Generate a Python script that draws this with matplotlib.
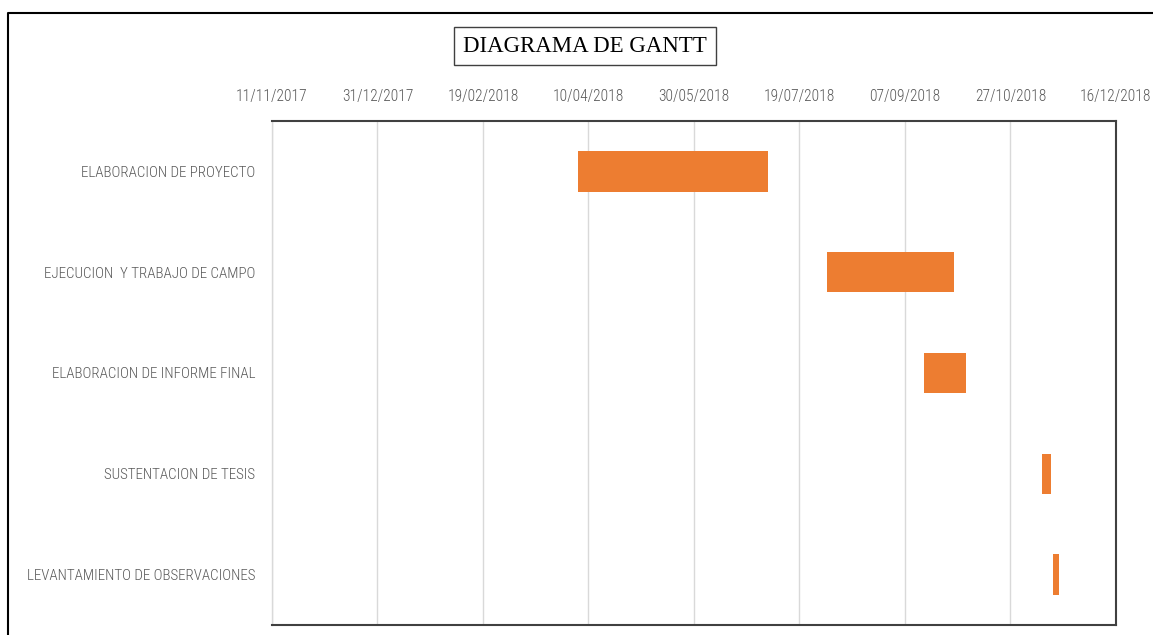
import datetime as dt
import matplotlib
matplotlib.use("Agg")
import matplotlib.pyplot as plt
import matplotlib.dates as mdates
from matplotlib.lines import Line2D

# Datos del diagrama
tareas = [
    "ELABORACION DE PROYECTO",
    "EJECUCION  Y TRABAJO DE CAMPO",
    "ELABORACION DE INFORME FINAL",
    "SUSTENTACION DE TESIS",
    "LEVANTAMIENTO DE OBSERVACIONES",
]
inicio = ["2018-04-05", "2018-08-01", "2018-09-16", "2018-11-11", "2018-11-16"]
duracion = [90, 60, 20, 4, 3]  # dias

fecha_min = "2017-11-11"
fecha_max = "2018-12-16"
paso_dias = 50

fuente = ["Roboto Condensed", "DejaVu Sans"]
fuente_titulo = ["Liberation Serif", "DejaVu Serif"]

W, H = 1153, 635
fig = plt.figure(figsize=(W / 100, H / 100), dpi=100)
ax = fig.add_axes([272 / W, 1 - 625 / H, (1116 - 272) / W, (625 - 121) / H])

starts = [mdates.date2num(dt.datetime.strptime(s, "%Y-%m-%d")) for s in inicio]
ys = list(range(len(tareas)))
ax.barh(ys, duracion, left=starts, height=0.4, color="#ED7D31", zorder=3)

x0 = mdates.date2num(dt.datetime.strptime(fecha_min, "%Y-%m-%d"))
x1 = mdates.date2num(dt.datetime.strptime(fecha_max, "%Y-%m-%d"))
ax.set_xlim(x0, x1)
ax.set_ylim(len(tareas) - 0.5, -0.5)

ticks = [x0 + paso_dias * i for i in range(int((x1 - x0) // paso_dias) + 1)]
ax.set_xticks(ticks)
ax.xaxis.set_major_formatter(mdates.DateFormatter("%d/%m/%Y"))
ax.xaxis.tick_top()
ax.tick_params(axis="x", length=0, pad=12, labelsize=11.2, labelcolor="#595959")
ax.tick_params(axis="y", length=0, pad=12, labelsize=10.8, labelcolor="#595959")
ax.set_yticks(ys)
ax.set_yticklabels(tareas)
for lbl in ax.get_xticklabels() + ax.get_yticklabels():
    lbl.set_fontfamily(fuente)
    lbl.set_fontweight(300)

ax.grid(axis="x", color="#d9d9d9", linewidth=1, zorder=0)
for lado in ["top", "right", "bottom"]:
    ax.spines[lado].set_color("#404040")
    ax.spines[lado].set_linewidth(1.5)
ax.spines["left"].set_color("#d9d9d9")
ax.spines["left"].set_linewidth(1)

fig.text(585 / W, 1 - 46 / H, "DIAGRAMA DE GANTT", ha="center", va="center",
         fontsize=16.5, family=fuente_titulo, color="black",
         bbox=dict(boxstyle="square,pad=0.38", facecolor="white", edgecolor="#404040", linewidth=1))

# Borde exterior
fig.add_artist(Line2D([8 / W, 8 / W, 1], [0, 1 - 13 / H, 1 - 13 / H],
                      transform=fig.transFigure, color="black", linewidth=1.5))

fig.savefig("out.png", dpi=100)
